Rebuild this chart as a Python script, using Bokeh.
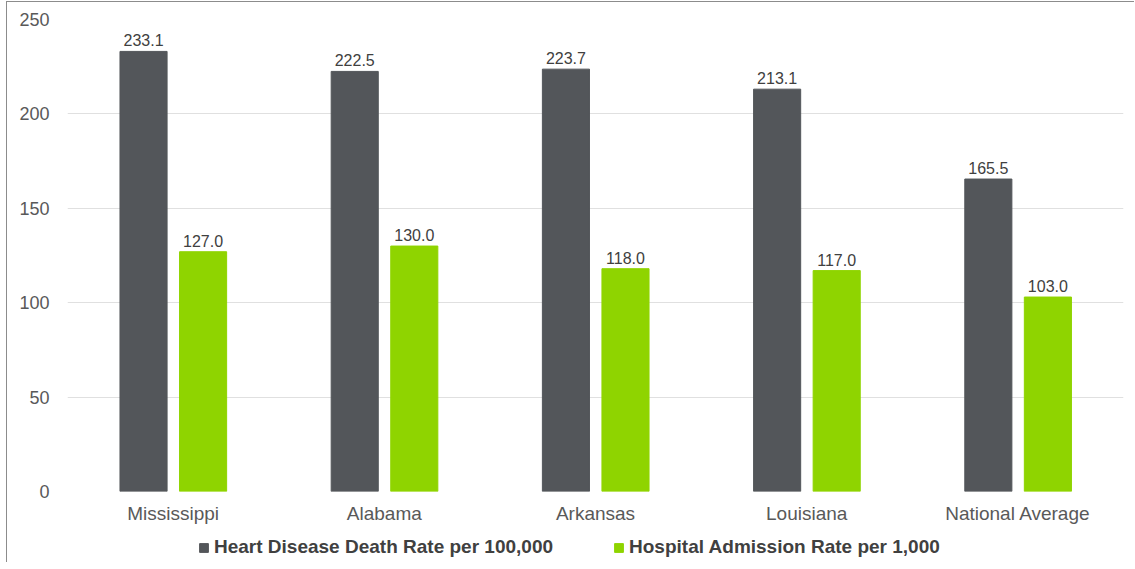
from bokeh.plotting import figure
from bokeh.models import ColumnDataSource, LabelSet, Legend, LegendItem
from bokeh.layouts import column
from bokeh.core.properties import value
from bokeh.transform import dodge
from bokeh.embed import file_html
from bokeh.resources import INLINE

states = ["Mississippi", "Alabama", "Arkansas", "Louisiana", "National Average"]
death_rate = [233.1, 222.5, 223.7, 213.1, 165.5]
admission_rate = [127.0, 130.0, 118.0, 117.0, 103.0]
death_label = "Heart Disease Death Rate per 100,000"
admission_label = "Hospital Admission Rate per 1,000"

DARK = "#53565a"
GREEN = "#8fd400"
FONT = "Liberation Sans"

src = ColumnDataSource(dict(
    state=states,
    death=death_rate,
    admit=admission_rate,
    death_txt=[f"{v:.1f}" for v in death_rate],
    admit_txt=[f"{v:.1f}" for v in admission_rate],
))

p = figure(
    x_range=states, y_range=(0, 250),
    width=1128, height=527,
    output_backend="svg", toolbar_location=None,
    min_border_left=60, min_border_right=12, min_border_top=17, min_border_bottom=38,
    styles={"margin-left": "6px", "margin-top": "1px",
            "border-left": "1px solid #8c8c8c", "border-top": "1px solid #8c8c8c"},
)
p.outline_line_color = None
p.background_fill_color = "white"
p.border_fill_color = "white"

p.vbar(x=dodge("state", -0.14, range=p.x_range), top="death", width=0.223,
       source=src, color=DARK)
p.vbar(x=dodge("state", 0.142, range=p.x_range), top="admit", width=0.223,
       source=src, color=GREEN)

# value labels above each bar
for xo, col in [(-0.14, "death"), (0.142, "admit")]:
    lbl = LabelSet(x=dodge("state", xo, range=p.x_range), y=col, text=col + "_txt",
                   source=src, text_align="center", text_baseline="bottom",
                   y_offset=5, text_font=value(FONT), text_font_size="16px",
                   text_color="#404040")
    p.add_layout(lbl)

p.xgrid.grid_line_color = None
p.ygrid.grid_line_color = "#e0e0e0"
p.ygrid.grid_line_width = 1
p.yaxis.ticker = [0, 50, 100, 150, 200, 250]

for ax in (p.xaxis, p.yaxis):
    ax.axis_line_color = None
    ax.major_tick_line_color = None
    ax.minor_tick_line_color = None
    ax.major_label_text_font = FONT
    ax.major_label_text_color = "#595959"
p.yaxis.major_label_text_font_size = "18px"
p.xaxis.major_label_text_font_size = "19px"
p.yaxis.major_label_standoff = 12
p.xaxis.major_label_standoff = 5

# legend strip underneath the chart; the key renderers sit outside the strip's
# visible range so only their legend swatches show
lg = figure(
    width=1128, height=34, x_range=(0, 1), y_range=(0, 1),
    output_backend="svg", toolbar_location=None, min_border=0,
    styles={"margin-left": "6px", "border-left": "1px solid #8c8c8c"},
)
lg.axis.visible = False
lg.grid.visible = False
lg.outline_line_color = None
lg.border_fill_color = "white"
key_src = ColumnDataSource(dict(x=[-5], y=[-5]))
k1 = lg.rect(x="x", y="y", width=1, height=1, source=key_src, color=DARK)
k2 = lg.rect(x="x", y="y", width=1, height=1, source=key_src, color=GREEN)
legend = Legend(
    items=[LegendItem(label=death_label, renderers=[k1]),
           LegendItem(label=admission_label, renderers=[k2])],
    orientation="horizontal", location=(131, 4),
    label_text_font=FONT, label_text_font_size="19px", label_text_font_style="bold",
    label_text_color="#404040", glyph_width=11, glyph_height=11,
    label_standoff=5, spacing=60, border_line_color=None,
    background_fill_alpha=0, padding=0, margin=0,
)
lg.add_layout(legend, "center")

layout = column(p, lg, spacing=0)
open("out.html", "w").write(file_html(layout, INLINE))
